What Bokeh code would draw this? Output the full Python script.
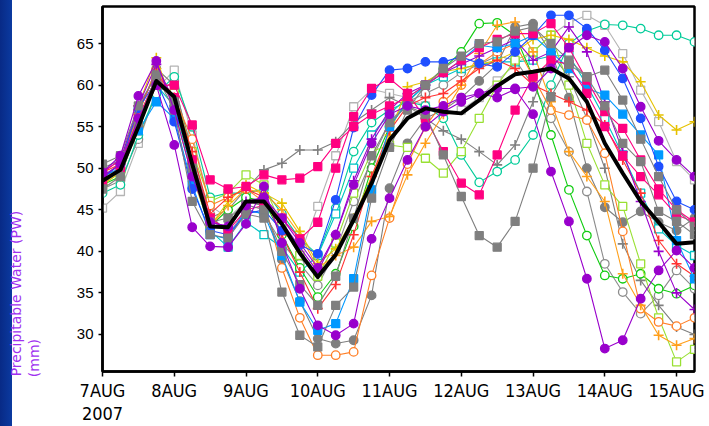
from bokeh.plotting import figure
from bokeh.models import FixedTicker, Range1d
from bokeh.embed import file_html
from bokeh.resources import INLINE

# forecast hour from 7 AUG 2007 00Z, every 6 h
HOURS = [0, 6, 12, 18, 24, 30, 36, 42, 48, 54, 60, 66, 72, 78, 84, 90, 96,
         102, 108, 114, 120, 126, 132, 138, 144, 150, 156, 162, 168, 174,
         180, 186, 192, 198]

DAY_TICKS = [0, 24, 48, 72, 96, 120, 144, 168, 192]
DAY_LABELS = ["7AUG\n2007", "8AUG", "9AUG", "10AUG", "11AUG", "12AUG", "13AUG", "14AUG", "15AUG"]
Y_TICKS = [30, 35, 40, 45, 50, 55, 60, 65]
Y_TITLE_LINES = ["Precipitable Water (PW)", "(mm)"]

# ensemble members, precipitable water (mm)
BLUE_C = [48.8, 50.5, 57.2, 60.5, 55.6, 47.5, 42.5, 42.0, 44.5, 45.0, 42.5, 40.8, 39.7, 46.2, 54.9, 58.8, 61.8,
          62.0, 62.8, 62.8, 63.4, 62.6, 62.2, 64.0, 66.0, 68.4, 68.4, 66.8, 64.2, 60.8, 56.0, 50.2, 46.0, 45.0]
PURPLE_C1 = [49.5, 51.5, 58.7, 62.9, 57.0, 49.0, 43.5, 43.0, 45.5, 46.5, 44.0, 41.0, 38.0, 42.0, 48.0, 53.0, 56.5,
             57.5, 57.0, 57.5, 58.5, 59.0, 58.5, 59.5, 56.5, 49.6, 43.6, 36.7, 28.3, 29.3, 34.3, 37.7, 40.1, 38.0]
PURPLE_C2 = [49.0, 50.5, 56.0, 60.0, 52.8, 42.9, 40.6, 40.5, 43.3, 47.8, 41.0, 35.5, 31.1, 29.9, 31.3, 41.5, 46.4,
             51.0, 55.0, 56.8, 58.0, 59.0, 59.6, 59.6, 59.8, 62.0, 64.5, 66.0, 65.2, 62.0, 57.4, 53.3, 51.0, 49.0]
MAGENTA_S1 = [49.5, 51.0, 55.5, 60.0, 60.0, 55.2, 48.6, 47.5, 47.8, 49.2, 48.6, 48.8, 50.2, 53.0, 55.0, 56.5, 57.5,
              58.5, 60.0, 61.5, 63.0, 64.5, 65.5, 66.2, 66.2, 67.4, 64.5, 60.6, 56.8, 54.8, 51.0, 47.5, 45.0, 43.5]
MAGENTA_S2 = [48.5, 50.0, 56.0, 61.0, 58.5, 51.0, 44.0, 42.5, 45.0, 45.5, 44.0, 41.5, 43.5, 50.0, 56.2, 59.6, 60.8,
              59.0, 56.0, 52.0, 48.2, 46.8, 51.6, 57.0, 61.0, 63.0, 62.5, 59.0, 55.0, 51.5, 49.0, 46.8, 44.4, 43.5]
GRAY_S1 = [50.5, 51.5, 57.5, 61.2, 58.0, 50.0, 43.5, 44.0, 45.6, 45.0, 40.0, 36.0, 33.5, 37.0, 44.0, 51.5, 55.5,
           57.5, 56.5, 51.6, 46.6, 41.9, 40.5, 43.6, 50.0, 58.6, 62.5, 61.0, 57.5, 53.0, 50.8, 44.8, 43.6, 42.0]
GRAY_S2 = [47.5, 49.0, 55.5, 61.2, 57.0, 46.0, 42.0, 41.6, 44.5, 44.0, 35.1, 29.9, 28.5, 33.5, 35.7, 46.4, 52.5,
           57.0, 60.0, 62.0, 63.5, 65.0, 65.2, 66.5, 67.0, 65.0, 63.0, 61.0, 61.8, 58.2, 53.5, 49.0, 45.0, 43.0]
GRAY_C = [48.0, 50.0, 56.5, 62.0, 60.0, 52.0, 44.0, 42.5, 46.0, 45.5, 39.0, 34.0, 29.5, 28.9, 29.3, 34.7, 47.6,
          53.0, 56.0, 57.0, 58.5, 60.5, 62.5, 67.0, 67.4, 63.8, 58.5, 50.0, 45.3, 43.5, 44.8, 43.5, 42.5, 44.0]
SKY_S = [49.0, 50.0, 54.5, 58.0, 56.0, 48.0, 42.0, 41.5, 45.0, 44.5, 39.5, 33.9, 30.5, 31.3, 36.7, 47.4, 55.0,
         58.0, 60.0, 61.5, 63.0, 64.8, 64.5, 65.0, 66.0, 64.0, 62.0, 59.6, 58.8, 56.5, 54.0, 51.6, 41.3, 36.7]
LTGRAY_OS = [45.2, 47.2, 53.0, 59.5, 61.8, 54.0, 45.5, 44.0, 46.0, 45.5, 43.5, 39.5, 45.4, 51.5, 57.4, 59.5, 59.0,
             58.5, 57.5, 56.5, 57.0, 58.5, 60.5, 62.5, 64.0, 66.0, 67.5, 68.4, 67.2, 63.8, 59.4, 55.6, 50.8, 48.6]
GRAY_P = [50.0, 51.0, 57.0, 61.5, 57.5, 50.5, 44.0, 45.0, 47.5, 49.8, 50.6, 52.2, 52.2, 53.2, 55.5, 57.0, 58.5,
          57.5, 56.0, 54.5, 53.5, 52.0, 50.4, 52.8, 58.0, 63.8, 61.0, 56.0, 50.0, 40.9, 36.5, 33.5, 30.9, 30.0]
YELLOW_P = [48.0, 49.5, 57.5, 63.3, 57.0, 49.0, 43.0, 46.0, 48.0, 47.0, 45.8, 42.4, 38.5, 40.3, 44.0, 49.0, 54.0,
            59.8, 60.4, 61.6, 62.0, 62.5, 63.0, 64.0, 65.5, 66.0, 65.5, 64.5, 63.5, 62.8, 60.4, 56.4, 54.6, 55.6]
ORANGE_P = [48.5, 50.0, 56.5, 62.0, 58.0, 51.0, 43.0, 45.5, 47.5, 47.0, 45.0, 42.0, 38.0, 39.5, 40.5, 43.6, 44.2,
            49.2, 53.0, 56.5, 60.0, 63.8, 67.2, 67.6, 64.0, 58.0, 52.0, 49.0, 46.0, 37.3, 33.5, 29.9, 28.7, 29.5]
RED_P = [49.5, 50.5, 57.0, 61.5, 58.5, 52.0, 44.5, 46.5, 47.5, 46.5, 42.0, 37.5, 33.1, 36.0, 42.0, 49.0, 54.5,
         57.5, 58.5, 59.0, 60.5, 62.0, 63.0, 62.0, 60.0, 59.0, 58.0, 57.0, 55.2, 51.0, 47.0, 41.3, 38.5, 37.0]
AQUA_OC = [47.0, 48.0, 54.0, 59.0, 61.0, 55.0, 46.5, 47.0, 47.0, 47.5, 44.5, 41.5, 39.6, 45.2, 52.0, 55.5, 57.0,
           58.0, 57.5, 56.0, 51.6, 48.3, 49.6, 51.0, 54.0, 60.0, 65.0, 66.5, 67.3, 67.2, 66.8, 66.0, 66.0, 65.2]
GREEN_OC = [48.0, 49.0, 55.0, 60.0, 59.0, 50.5, 43.0, 45.0, 46.5, 46.0, 42.0, 38.0, 34.5, 37.3, 43.0, 50.0, 55.0,
            58.0, 60.0, 62.0, 64.0, 67.4, 67.5, 66.0, 61.0, 54.0, 47.4, 41.9, 37.1, 36.7, 37.3, 35.5, 34.9, 35.9]
ORANGE_OC = [49.0, 50.0, 56.0, 61.0, 58.5, 53.5, 45.5, 46.5, 47.5, 46.0, 38.0, 32.0, 27.5, 27.5, 27.9, 37.1, 44.0,
             50.5, 55.0, 58.0, 60.0, 62.5, 64.0, 65.0, 61.0, 57.0, 56.4, 55.8, 51.8, 42.4, 33.1, 31.5, 31.0, 32.0]
LTGREEN_OS = [48.0, 49.5, 54.5, 60.5, 59.0, 52.0, 46.0, 47.0, 49.2, 48.0, 43.0, 39.5, 37.0, 41.0, 47.0, 52.0, 52.8,
              52.5, 51.2, 49.4, 52.0, 56.0, 60.0, 63.0, 64.0, 66.0, 60.0, 53.0, 48.0, 45.4, 38.5, 32.0, 26.7, 28.2]
CYAN_OS = [49.0, 50.5, 55.5, 60.0, 57.5, 49.5, 42.5, 40.5, 43.5, 42.0, 40.5, 37.5, 39.5, 44.5, 50.0, 54.0, 56.5,
           58.5, 60.0, 61.0, 62.0, 62.5, 62.8, 62.8, 63.0, 63.5, 63.6, 60.0, 56.0, 51.6, 47.0, 42.7, 40.7, 39.5]
GRAY_OC = [47.5, 48.5, 53.5, 59.0, 60.5, 51.0, 44.5, 42.0, 45.0, 44.5, 41.0, 38.5, 35.9, 40.0, 46.0, 51.0, 55.5,
           58.0, 59.0, 60.0, 61.5, 62.5, 63.5, 63.0, 60.0, 56.0, 52.0, 47.2, 38.5, 35.1, 32.5, 34.7, 37.7, 35.5]
PURPLE_P = [49.5, 51.0, 57.5, 62.5, 58.0, 50.0, 43.5, 43.0, 46.0, 46.5, 43.5, 40.5, 37.5, 42.0, 48.5, 53.5, 57.0,
            59.0, 60.0, 61.5, 62.5, 63.5, 64.5, 65.5, 63.0, 64.0, 67.0, 64.0, 58.0, 52.0, 46.0, 40.0, 35.0, 33.0]

# ensemble mean (thick black)
ENS_MEAN = [48.5, 49.8, 55.0, 60.5, 58.6, 50.5, 43.0, 42.9, 46.0, 46.0, 43.3, 39.8, 36.9, 39.6, 43.8, 48.2, 53.4,
            56.0, 57.2, 56.8, 56.6, 58.2, 59.9, 61.3, 61.6, 62.0, 60.8, 58.0, 53.0, 49.4, 46.0, 43.5, 40.9, 41.1]

# (series, colour, marker, filled)
MEMBERS = [
    (LTGRAY_OS, "#b4b4b4", "square", False),
    (GRAY_OC, "#8c8c8c", "circle", False),
    (GRAY_P, "#7f7f7f", "cross", False),
    (GRAY_C, "#7f7f7f", "circle", True),
    (AQUA_OC, "#00cc99", "circle", False),
    (CYAN_OS, "#00c4c4", "square", False),
    (GREEN_OC, "#11cc11", "circle", False),
    (LTGREEN_OS, "#99e033", "square", False),
    (ORANGE_OC, "#ff7f27", "circle", False),
    (ORANGE_P, "#ff9f1a", "cross", False),
    (YELLOW_P, "#e6c200", "cross", False),
    (RED_P, "#ff3333", "cross", False),
    (PURPLE_P, "#9900cc", "cross", False),
    (SKY_S, "#0099ff", "square", True),
    (BLUE_C, "#1f4fff", "circle", True),
    (MAGENTA_S1, "#ff0080", "square", True),
    (MAGENTA_S2, "#ff0080", "square", True),
    (GRAY_S1, "#7f7f7f", "square", True),
    (GRAY_S2, "#7f7f7f", "square", True),
    (PURPLE_C1, "#9900cc", "circle", True),
    (PURPLE_C2, "#9900cc", "circle", True),
]

W, H = 709, 426
p = figure(width=W, height=H, output_backend="svg", toolbar_location=None,
           x_range=Range1d(0, 198), y_range=Range1d(25.54, 69.46),
           min_border_left=102, min_border_right=15, min_border_top=6, min_border_bottom=53)
p.background_fill_color = "white"
# border left transparent so the page-side blue strip (CSS background) shows through
p.border_fill_color = None
p.styles = {"background": "linear-gradient(to right, #082a86 0px, #0b3aa0 12px, #ffffff 12px, #ffffff 100%)"}
p.xgrid.grid_line_color = None
p.ygrid.grid_line_color = None
p.outline_line_color = "black"
p.outline_line_width = 2.5
p.outline_line_alpha = 1.0

for ax in (p.xaxis[0], p.yaxis[0]):
    ax.axis_line_color = "black"
    ax.axis_line_width = 2.5
    ax.major_tick_line_color = "black"
    ax.major_tick_line_width = 1.5
    ax.major_tick_in = 0
    ax.minor_tick_line_color = None
    ax.major_label_text_color = "black"

p.xaxis.ticker = FixedTicker(ticks=DAY_TICKS)
p.xaxis.major_label_overrides = {t: l for t, l in zip(DAY_TICKS, DAY_LABELS)}
p.xaxis.major_tick_out = 5
p.xaxis.major_label_standoff = 3
p.xaxis.major_label_text_font = "DejaVu Sans Condensed, Liberation Sans, sans-serif"
p.xaxis.major_label_text_font_size = "18px"
p.xaxis.major_label_text_line_height = 1.1

p.yaxis.ticker = FixedTicker(ticks=Y_TICKS)
p.yaxis.major_tick_out = 4
p.yaxis.major_label_standoff = 5
p.yaxis.major_label_text_font = "Liberation Sans"
p.yaxis.major_label_text_font_size = "15px"

# y title: the reference anchors it low on the left side, so each line is
# padded with no-break spaces at its (upper) end to push the visible text down
NBSP = "\u00a0"
p.yaxis.axis_label = Y_TITLE_LINES[0] + NBSP * 47 + "\n" + Y_TITLE_LINES[1] + NBSP * 76
p.yaxis.axis_label_text_color = "#a030f0"
p.yaxis.axis_label_text_font = "DejaVu Sans"
p.yaxis.axis_label_text_font_size = "14px"
p.yaxis.axis_label_text_font_style = "normal"
p.yaxis.axis_label_text_line_height = 1.14
p.yaxis.axis_label_standoff = 32

for ys, col, mk, filled in MEMBERS:
    p.line(HOURS, ys, line_color=col, line_width=1.1)
    if mk == "cross":
        p.scatter(HOURS, ys, marker="cross", size=10, line_color=col, line_width=1.6)
    else:
        sz = 8.5 if mk == "circle" else 8
        p.scatter(HOURS, ys, marker=mk, size=sz, line_color=col, line_width=1.3,
                  fill_color=col if filled else "white")

p.line(HOURS, ENS_MEAN, line_color="black", line_width=4, line_join="round")

open("out.html", "w").write(file_html(p, INLINE))
